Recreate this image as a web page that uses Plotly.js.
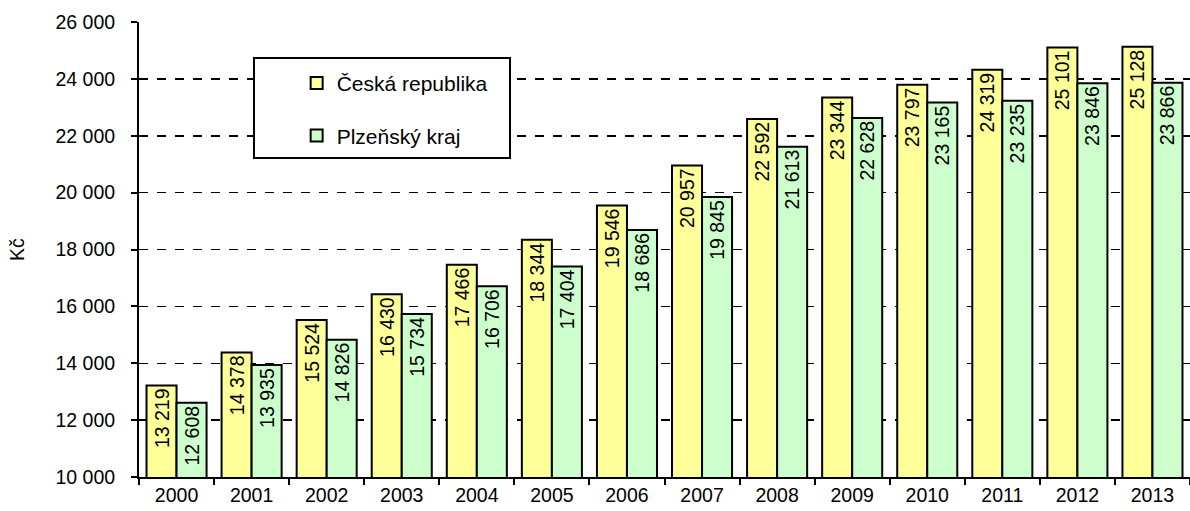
<!DOCTYPE html>
<html>
<head>
<meta charset="utf-8">
<script src="https://cdn.plot.ly/plotly-3.0.1.min.js"></script>
<style>html,body{margin:0;padding:0;background:#fff;}#chart{width:1190px;height:511px;}</style>
</head>
<body>
<div id="chart"></div>
<script>
const years = ['2000','2001','2002','2003','2004','2005','2006','2007','2008','2009','2010','2011','2012','2013'];
const ceskaRepublika = [13219,14378,15524,16430,17466,18344,19546,20957,22592,23344,23797,24319,25101,25128];
const plzenskyKraj = [12608,13935,14826,15734,16706,17404,18686,19845,21613,22628,23165,23235,23846,23866];
const seriesNames = ['Česká republika','Plzeňský kraj'];
const yTitle = 'Kč';

const fontFam = 'Liberation Sans, Arial, sans-serif';
const common = {
  type: 'bar',
  x: years,
  texttemplate: '%{y:,d}',
  textposition: 'inside',
  insidetextanchor: 'end',
  constraintext: 'none',
  textangle: -90,
  insidetextfont: {family: fontFam, size: 19.5, color: '#000'},
  hoverinfo: 'x+y'
};
const traces = [
  Object.assign({}, common, {
    y: ceskaRepublika, name: seriesNames[0], legendgroup: 'a',
    marker: {color: '#FFFF99', line: {color: '#000', width: 2}}
  }),
  Object.assign({}, common, {
    y: plzenskyKraj, name: seriesNames[1], legendgroup: 'b',
    marker: {color: '#CCFFCC', line: {color: '#000', width: 2}}
  })
];

const layout = {
  width: 1190, height: 511,
  margin: {l: 139, r: 0, t: 22, b: 34},
  paper_bgcolor: '#fff', plot_bgcolor: '#fff',
  separators: ', ',
  font: {family: fontFam, size: 19.5, color: '#000'},
  barmode: 'group',
  bargap: 0.2,
  bargroupgap: 0,
  xaxis: {
    type: 'category',
    tickson: 'boundaries',
    ticks: 'outside', ticklen: 6, tickwidth: 2, tickcolor: '#000',
    showline: true, linewidth: 2, linecolor: '#000',
    showgrid: false,
    tickfont: {family: fontFam, size: 19.5, color: '#000'},
    automargin: false
  },
  yaxis: {
    range: [10000, 26000],
    dtick: 2000,
    tickformat: ',d',
    ticks: 'outside', ticklen: 6, tickwidth: 2, tickcolor: '#000',
    ticklabelstandoff: 12,
    showline: true, linewidth: 2, linecolor: '#000',
    showgrid: true, gridcolor: '#000', gridwidth: 1.5, griddash: 'dash',
    zeroline: false,
    tickfont: {family: fontFam, size: 19.5, color: '#000'},
    title: {text: yTitle, font: {family: fontFam, size: 19.5, color: '#000'}, standoff: 26},
    automargin: false
  },
  showlegend: true,
  legend: {
    x: 0.150, y: 0.91, xanchor: 'left', yanchor: 'top',
    bgcolor: 'rgba(0,0,0,0)', borderwidth: 0,
    traceorder: 'grouped', tracegroupgap: 22,
    font: {family: fontFam, size: 21, color: '#000'}
  },
  shapes: [{
    type: 'rect', xref: 'paper', yref: 'paper',
    x0: 0.1094, x1: 0.353, y0: 0.701, y1: 0.921,
    line: {color: '#000', width: 2}, fillcolor: '#fff', layer: 'above'
  }]
};

Plotly.newPlot('chart', traces, layout, {displayModeBar: false, staticPlot: true});
</script>
</body>
</html>
